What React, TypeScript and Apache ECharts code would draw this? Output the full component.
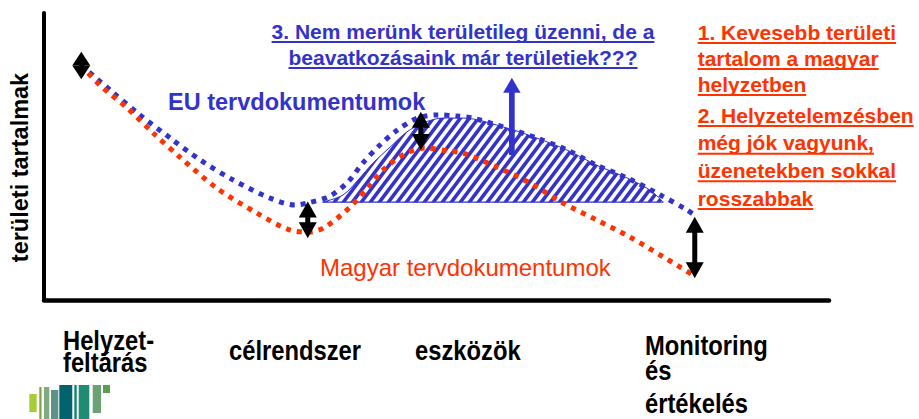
import React, { useEffect, useRef } from 'react';
import * as echarts from 'echarts';

const BLUE = '#3333CC';
const RED = '#FF3300';
const FONT = '"Liberation Sans", Arial, sans-serif';

// EU plan documents (blue dotted curve)
const euDocs: [number, number][] = [
  [4.7, 81.9], [8.4, 73.2], [12.2, 64.5], [16.1, 56.4], [19.9, 48.8], [24.1, 41.8],
  [28.8, 35.5], [32.0, 33.1], [33.6, 33.8], [36.4, 36.2], [38.7, 41.1], [40.6, 47.7],
  [42.8, 54.0], [45.0, 59.2], [47.6, 63.4], [50.1, 64.5], [52.6, 64.1], [54.6, 63.4],
  [59.0, 59.9], [62.8, 56.4], [66.6, 52.3], [70.4, 47.0], [74.3, 42.5], [78.5, 36.6],
  [81.9, 31.4], [83.2, 28.9],
];

// Hungarian plan documents (red dotted curve)
const hunDocs: [number, number][] = [
  [4.7, 81.9], [7.1, 74.9], [10.6, 66.9], [13.9, 58.2], [17.3, 49.8], [22.0, 39.0],
  [27.1, 30.3], [31.3, 24.4], [33.9, 23.7], [35.8, 25.4], [39.0, 32.4], [41.3, 39.4],
  [43.3, 45.6], [45.7, 50.5], [48.5, 53.0], [51.5, 51.9], [53.4, 51.2], [57.7, 46.3],
  [61.9, 40.8], [66.1, 33.8], [70.4, 27.9], [74.6, 22.0], [78.9, 15.0], [82.7, 8.7],
];

// Hatched gap region (top edge) and its flat base
const hatchTop: [number, number][] = [
  [35.5, 34.1], [38.1, 36.6], [40.0, 41.8], [41.9, 47.7], [44.1, 53.3], [46.2, 58.5],
  [48.3, 61.7], [50.8, 63.4], [53.4, 63.4], [59.0, 59.9], [62.8, 56.4], [66.6, 52.3],
  [70.4, 47.0], [74.3, 42.5], [77.2, 38.3], [78.9, 34.1],
];
const hatchBase = 34.1;

// Black double arrows (gap markers)
const gapArrowX = [4.75, 33.6, 48.0, 82.9];
const gapArrowTop = [86.5, 34.3, 65.6, 29.0];
const gapArrowBottom = [76.9, 21.5, 52.3, 7.6];

// Blue upward arrow: x, from, to
const upArrowX = [59.6];
const upArrowFrom = [50.5];
const upArrowTo = [77.4];

const yAxisTitle = 'területi tartalmak';
const euLabel = 'EU tervdokumentumok';
const hunLabel = 'Magyar tervdokumentumok';
const note3Lines = ['3. Nem merünk területileg üzenni, de a', 'beavatkozásaink már területiek???'];
const note1Lines = ['1. Kevesebb területi', 'tartalom a magyar', 'helyzetben'];
const note2Lines = ['2. Helyzetelemzésben', 'még jók vagyunk,', 'üzenetekben sokkal', 'rosszabbak'];
const stageLabels: string[][] = [['Helyzet-', 'feltárás'], ['célrendszer'], ['eszközök'], ['Monitoring', 'és', 'értékelés']];

// layout (pixels)
const stageX = [63, 229, 415, 645];
const stageBaselines = [[350, 372], [360], [360], [354.5, 380, 413]];
const note3Baselines = [38.5, 64.5];
const note1Baselines = [39.5, 65.5, 91.5];
const note2Baselines = [122.5, 150.2, 177.8, 205.5];

const logoBars: [number, number, number, number, string][] = [
  [29.3, 394, 7.4, 18, '#A6CE39'],
  [39.3, 387, 2.2, 32, '#7FA23C'],
  [44, 387, 5.3, 32, '#7DAA7E'],
  [51, 390, 7.3, 29, '#5B9486'],
  [59.3, 385, 13, 34, '#00636E'],
  [74.3, 385, 2.4, 34, '#14806E'],
  [78.7, 385, 10.6, 34, '#1E8B73'],
  [92.7, 385, 8.3, 28, '#6BA274'],
  [103, 385, 7, 8, '#5E9E4A'],
];

function measure(text: string, font: string): number {
  const ctx = document.createElement('canvas').getContext('2d');
  if (!ctx) return text.length * 10;
  ctx.font = font;
  return ctx.measureText(text).width;
}

function makeHatch(): string {
  const w = 9, h = 12;
  const c = document.createElement('canvas');
  c.width = w; c.height = h;
  const ctx = c.getContext('2d');
  if (ctx) {
    ctx.strokeStyle = BLUE;
    ctx.lineWidth = 3.6;
    for (let k = 0; k <= 3; k++) {
      ctx.beginPath();
      ctx.moveTo((k + 1) * w, -h);
      ctx.lineTo((k - 2) * w, 2 * h);
      ctx.stroke();
    }
  }
  return c.toDataURL();
}

export default function App() {
  const ref = useRef<HTMLDivElement>(null);
  useEffect(() => {
    if (!ref.current) return;
    const chart = echarts.init(ref.current, null, { renderer: 'svg' });

    const g: any[] = [];
    const addText = (text: string, x: number, baseline: number, size: number, weight: string, color: string, align = 'left', extra: any = {}) => {
      g.push({
        type: 'text', x, y: baseline - 0.35 * size, ...extra,
        style: { text, fontSize: size, fontWeight: weight, fontFamily: FONT, fill: color, align, verticalAlign: 'middle' },
      });
    };
    const addUnderline = (text: string, x: number, baseline: number, size: number, color: string, align: string) => {
      const w = measure(text, `bold ${size}px ${FONT}`);
      const x0 = align === 'center' ? x - w / 2 : x;
      g.push({ type: 'line', shape: { x1: x0, y1: baseline + 3.5, x2: x0 + w, y2: baseline + 3.5 }, style: { stroke: color, lineWidth: 2 } });
    };

    // y axis title
    g.push({
      type: 'text', x: 20, y: 167.5, rotation: Math.PI / 2,
      style: { text: yAxisTitle, fontSize: 23.5, fontWeight: 'bold', fontFamily: FONT, fill: '#000', align: 'center', verticalAlign: 'middle' },
    });
    addText(euLabel, 168, 110, 23.5, 'bold', BLUE);
    addText(hunLabel, 320, 276, 24, 'normal', RED);

    note3Lines.forEach((t, i) => { addText(t, 463, note3Baselines[i], 21, 'bold', BLUE, 'center'); addUnderline(t, 463, note3Baselines[i], 21, BLUE, 'center'); });
    note1Lines.forEach((t, i) => { addText(t, 697.7, note1Baselines[i], 21, 'bold', RED); addUnderline(t, 697.7, note1Baselines[i], 21, RED, 'left'); });
    note2Lines.forEach((t, i) => { addText(t, 697.7, note2Baselines[i], 21, 'bold', RED); addUnderline(t, 697.7, note2Baselines[i], 21, RED, 'left'); });

    stageLabels.forEach((lines, i) => {
      lines.forEach((t, j) => addText(t, stageX[i], stageBaselines[i][j], 27, 'bold', '#000', 'left', { scaleX: 0.88 }));
    });

    logoBars.forEach(([x, y, w, h, c]) => {
      g.push({ type: 'rect', shape: { x, y, width: w, height: h }, style: { fill: c } });
    });

    const arrowRender = (color: string, hw: number, hhMax: number, sw: number, both: boolean) => (params: any, api: any) => {
      const x = api.value(0), yA = api.value(1), yB = api.value(2);
      const pA = api.coord([x, yA]);
      const pB = api.coord([x, yB]);
      const cx = pA[0];
      const top = Math.min(pA[1], pB[1]);
      const bot = Math.max(pA[1], pB[1]);
      const hh = both ? Math.min(hhMax, (bot - top) / 2) : hhMax;
      const children: any[] = [];
      const sTop = top + hh * 0.8;
      const sBot = both ? bot - hh * 0.8 : bot;
      if (sBot > sTop) {
        children.push({ type: 'rect', shape: { x: cx - sw / 2, y: sTop, width: sw, height: sBot - sTop }, style: { fill: color } });
      }
      children.push({ type: 'polygon', shape: { points: [[cx, top], [cx + hw, top + hh], [cx - hw, top + hh]] }, style: { fill: color } });
      if (both) {
        children.push({ type: 'polygon', shape: { points: [[cx, bot], [cx + hw, bot - hh], [cx - hw, bot - hh]] }, style: { fill: color } });
      }
      return { type: 'group', children };
    };

    const hatchImg = makeHatch();

    chart.setOption({
      animation: false,
      grid: { left: 44, top: 13, right: 90, bottom: 119 },
      xAxis: {
        type: 'value', min: 0, max: 100,
        axisLine: { show: true, onZero: false, lineStyle: { color: '#000', width: 4.5 } },
        axisTick: { show: false }, axisLabel: { show: false }, splitLine: { show: false },
      },
      yAxis: {
        type: 'value', min: 0, max: 100,
        axisLine: { show: true, onZero: false, lineStyle: { color: '#000', width: 4 } },
        axisTick: { show: false }, axisLabel: { show: false }, splitLine: { show: false },
      },
      series: [
        {
          type: 'line', data: hatchTop, smooth: 0.3, symbol: 'none', z: 1,
          lineStyle: { color: BLUE, width: 1 },
          areaStyle: { origin: hatchBase, opacity: 1, color: { image: hatchImg, repeat: 'repeat', imageWidth: 9, imageHeight: 12 } },
        },
        {
          type: 'line', data: [[hatchTop[0][0], hatchBase], [hatchTop[hatchTop.length - 1][0], hatchBase]],
          symbol: 'none', z: 1, lineStyle: { color: BLUE, width: 1.2 },
        },
        {
          type: 'line', data: euDocs, smooth: 0.3, symbol: 'none', z: 2,
          lineStyle: { color: BLUE, width: 5, type: [5, 6], cap: 'butt' },
        },
        {
          type: 'line', data: hunDocs, smooth: 0.3, symbol: 'none', z: 3,
          lineStyle: { color: RED, width: 5, type: [5, 6], cap: 'butt' },
        },
        {
          type: 'custom', z: 5, clip: false,
          data: gapArrowX.map((x, i) => [x, gapArrowTop[i], gapArrowBottom[i]]),
          encode: { x: 0, y: [1, 2] },
          renderItem: arrowRender('#000', 9, 16, 5, true),
        },
        {
          type: 'custom', z: 5, clip: false,
          data: upArrowX.map((x, i) => [x, upArrowFrom[i], upArrowTo[i]]),
          encode: { x: 0, y: [1, 2] },
          renderItem: arrowRender(BLUE, 8.7, 15, 5.7, false),
        },
      ],
      graphic: g,
    });

    return () => chart.dispose();
  }, []);

  return <div ref={ref} style={{ position: 'fixed', left: 0, top: 0, width: 919, height: 419, background: '#fff' }} />;
}
